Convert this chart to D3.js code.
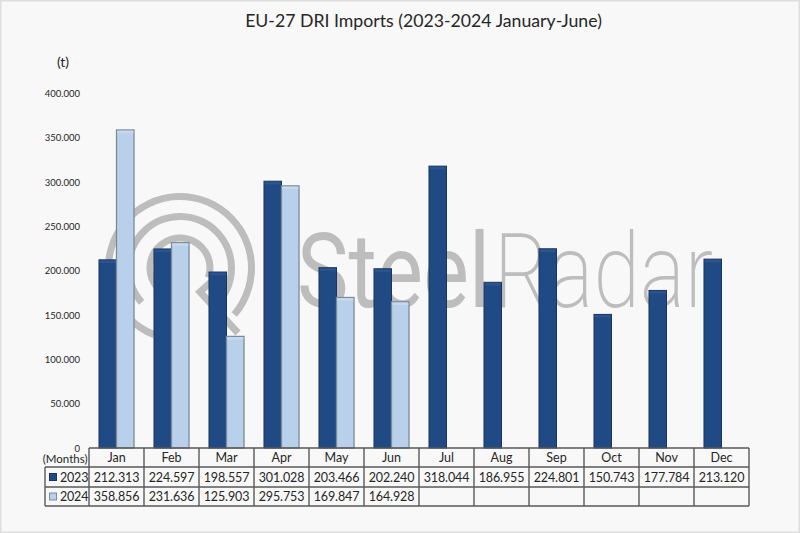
<!DOCTYPE html>
<html>

<head>
  <meta charset="utf-8">
  <title>EU-27 DRI Imports</title>
  <style>
    html, body { margin: 0; padding: 0; background: #f8f8f8; }
    svg { display: block; }
    text { font-family: Lato, "Open Sans", sans-serif; fill: #262626; }
  </style>
</head>

<body>
  <svg width="800" height="533"></svg>
  <script src="https://d3js.org/d3.v7.min.js"></script>
  <script>
  // data
  var months = ['Jan', 'Feb', 'Mar', 'Apr', 'May', 'Jun', 'Jul', 'Aug', 'Sep', 'Oct', 'Nov', 'Dec'];
  var years = ['2023', '2024'];
  var values2023 = [212313, 224597, 198557, 301028, 203466, 202240, 318044, 186955, 224801, 150743, 177784, 213120];
  var values2024 = [358856, 231636, 125903, 295753, 169847, 164928];
  var yTicks = [0, 50000, 100000, 150000, 200000, 250000, 300000, 350000, 400000];

  var colors = { '2023': '#1f4a84', '2024': '#b9d0ea' };
  var strokes = { '2023': '#1c3560', '2024': '#7d8a9b' };
  var highlights = { '2023': '#2a558f', '2024': '#c6d9ef' };

  var svg = d3.select('svg');
  var width = 800, height = 533;

  // 1. scales
  var plotLeft = 89, plotRight = 749, plotTop = 93.5, plotBase = 448;
  var x = d3.scaleBand().domain(months).range([plotLeft, plotRight]);
  var xYear = d3.scaleBand().domain(years).range([0, x.bandwidth()]).paddingOuter(0.57);
  var y = d3.scaleLinear().domain([0, 400000]).range([plotBase, plotTop]);
  var fmt = d3.formatLocale({ decimal: ',', thousands: '.', grouping: [3], currency: ['', ''] }).format(',');

  // background with the pale frame
  svg.append('rect')
    .attr('x', 0.75).attr('y', 0.75)
    .attr('width', width - 1.5).attr('height', height - 1.5)
    .attr('fill', '#f8f8f8').attr('stroke', '#dedede').attr('stroke-width', 1.5);

  // 2. watermark
  var logo = svg.append('g').attr('transform', 'translate(180,268)');
  var arc = d3.arc();
  var rings = [
    { r0: 68, r1: 75, a0: -2.77, a1: 2.28 },
    { r0: 48, r1: 55, a0: -2.3, a1: 2.35 },
    { r0: 26.5, r1: 33.5, a0: -2.5, a1: 1.9 }
  ];
  logo.selectAll('path.ring')
    .data(rings)
    .enter()
    .append('path')
    .attr('class', 'ring')
    .attr('fill', '#bdbdbd')
    .attr('d', function(d) {
      return arc({ innerRadius: d.r0, outerRadius: d.r1, startAngle: d.a0, endAngle: d.a1 });
    });
  logo.append('path')
    .attr('d', 'M31,14 L20,24 L58,65')
    .attr('fill', 'none')
    .attr('stroke', '#bdbdbd').attr('stroke-width', 7);

  // one text element, two weights
  var word = svg.append('text')
    .attr('y', 307)
    .style('font-family', 'Roboto, sans-serif')
    .style('font-size', '104px')
    .style('fill', '#bdbdbd');
  word.append('tspan')
    .attr('x', 297)
    .attr('textLength', 193)
    .attr('lengthAdjust', 'spacingAndGlyphs')
    .style('font-weight', 400)
    .text('Steel');
  word.append('tspan')
    .attr('x', 494)
    .attr('textLength', 219)
    .attr('lengthAdjust', 'spacingAndGlyphs')
    .style('font-weight', 200)
    .text('Radar');

  // 3. title and y axis
  svg.append('text')
    .attr('x', 423.5).attr('y', 27)
    .attr('text-anchor', 'middle')
    .style('font-size', '17.7px')
    .text('EU-27 DRI Imports (2023-2024 January-June)');

  svg.append('text')
    .attr('x', 63).attr('y', 67)
    .attr('text-anchor', 'middle')
    .style('font-size', '14px')
    .text('(t)');

  var yAxis = svg.append('g')
    .attr('transform', 'translate(' + plotLeft + ',0)')
    .call(d3.axisLeft(y).tickValues(yTicks).tickSize(0).tickPadding(9).tickFormat(fmt));
  yAxis.select('.domain').remove();
  yAxis.selectAll('text')
    .style('font-size', '9.5px')
    .style('font-family', 'Lato, sans-serif');

  // 4. bars
  var seriesData = [
    { year: '2023', values: values2023 },
    { year: '2024', values: values2024 }
  ];

  var series = svg.selectAll('.series')
    .data(seriesData)
    .enter()
    .append('g')
    .attr('class', 'series');

  var bar = series.selectAll('g')
    .data(function(s) {
      return s.values.map(function(v, i) { return { year: s.year, month: months[i], value: v }; });
    })
    .enter()
    .append('g');

  bar.append('rect')
    .attr('x', function(d) { return x(d.month) + xYear(d.year); })
    .attr('y', function(d) { return y(d.value); })
    .attr('width', xYear.bandwidth())
    .attr('height', function(d) { return plotBase - y(d.value); })
    .attr('fill', function(d) { return colors[d.year]; })
    .attr('stroke', function(d) { return strokes[d.year]; })
    .attr('stroke-width', function(d) { return d.year === '2024' ? 1.3 : 1; });

  bar.append('rect')
    .attr('x', function(d) { return x(d.month) + xYear(d.year) + 0.7; })
    .attr('y', function(d) { return y(d.value) + 0.7; })
    .attr('width', xYear.bandwidth() - 1.4)
    .attr('height', 2.5)
    .attr('fill', function(d) { return highlights[d.year]; });

  // 5. data table under the chart
  var rowY = [448, 467, 487, 506];
  var legendLeft = 45;
  var lineColor = '#595959';
  var table = svg.append('g').attr('stroke', lineColor).attr('stroke-width', 1.4).attr('fill', 'none');

  rowY.forEach(function(ry, i) {
    table.append('line')
      .attr('x1', i === 0 ? plotLeft : legendLeft).attr('x2', plotRight)
      .attr('y1', ry).attr('y2', ry);
  });
  x.domain().concat('end').forEach(function(m) {
    var cx = m === 'end' ? plotRight : x(m);
    table.append('line').attr('x1', cx).attr('x2', cx).attr('y1', rowY[0]).attr('y2', rowY[3]);
  });
  table.append('line')
    .attr('x1', legendLeft).attr('x2', legendLeft)
    .attr('y1', rowY[1]).attr('y2', rowY[3]);

  svg.selectAll('.month-label')
    .data(months)
    .enter()
    .append('text')
    .attr('class', 'month-label')
    .attr('x', function(d) { return x(d) + x.bandwidth() / 2; })
    .attr('y', (rowY[0] + rowY[1]) / 2 + 4.5)
    .attr('text-anchor', 'middle')
    .style('font-size', '12.5px')
    .text(function(d) { return d; });

  svg.append('text')
    .attr('x', 87.5).attr('y', 463)
    .attr('text-anchor', 'end')
    .style('font-size', '11.5px')
    .text('(Months)');

  var rows = svg.selectAll('.row')
    .data(seriesData)
    .enter()
    .append('g')
    .attr('class', 'row');

  rows.append('rect')
    .attr('x', 49.5)
    .attr('y', function(d, i) { return (rowY[i + 1] + rowY[i + 2]) / 2 - 3.5; })
    .attr('width', 7).attr('height', 7)
    .attr('fill', function(d) { return colors[d.year]; })
    .attr('stroke', function(d) { return strokes[d.year]; });

  rows.append('text')
    .attr('x', 60)
    .attr('y', function(d, i) { return (rowY[i + 1] + rowY[i + 2]) / 2 + 4.5; })
    .style('font-size', '12.5px')
    .style('letter-spacing', '-0.2px')
    .text(function(d) { return d.year; });

  rows.each(function(s, i) {
    d3.select(this).selectAll('.cell')
      .data(s.values)
      .enter()
      .append('text')
      .attr('class', 'cell')
      .attr('x', function(v, j) { return x(months[j]) + x.bandwidth() / 2; })
      .attr('y', (rowY[i + 1] + rowY[i + 2]) / 2 + 4.5)
      .attr('text-anchor', 'middle')
      .style('font-size', '12.5px')
      .style('letter-spacing', '-0.1px')
      .text(function(v) { return fmt(v); });
  });
  </script>
</body>

</html>
